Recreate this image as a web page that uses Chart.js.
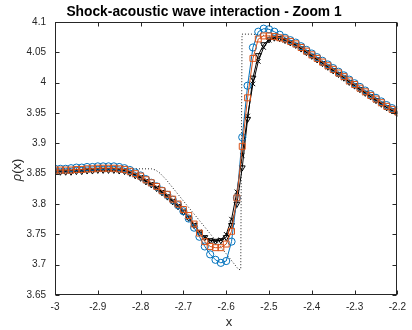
<!DOCTYPE html>
<html>
<head>
<meta charset="utf-8">
<script src="https://cdn.jsdelivr.net/npm/chart.js@4.4.1/dist/chart.umd.min.js"></script>
<style>
  html, body { margin: 0; padding: 0; background: #fff; }
  #wrap { width: 412px; height: 330px; }
</style>
</head>
<body>
<div id="wrap"><canvas id="myChart" width="412" height="330"></canvas></div>
<script>
// sample positions (same grid for all four schemes)
const xGrid = [
  -3.0000, -2.9875, -2.9750, -2.9625, -2.9500, -2.9375, -2.9250, -2.9125, -2.9000, -2.8875,
  -2.8750, -2.8625, -2.8500, -2.8375, -2.8250, -2.8125, -2.8000, -2.7875, -2.7750, -2.7625,
  -2.7500, -2.7375, -2.7250, -2.7125, -2.7000, -2.6875, -2.6750, -2.6625, -2.6500, -2.6375,
  -2.6250, -2.6125, -2.6000, -2.5875, -2.5750, -2.5625, -2.5500, -2.5375, -2.5250, -2.5125,
  -2.5000, -2.4875, -2.4750, -2.4625, -2.4500, -2.4375, -2.4250, -2.4125, -2.4000, -2.3875,
  -2.3750, -2.3625, -2.3500, -2.3375, -2.3250, -2.3125, -2.3000, -2.2875, -2.2750, -2.2625,
  -2.2500, -2.2375, -2.2250, -2.2125, -2.2000
];

// blue circles
const circles = [
  3.858, 3.858, 3.858, 3.859, 3.860, 3.860, 3.861, 3.861, 3.862, 3.862,
  3.862, 3.862, 3.861, 3.859, 3.856, 3.852, 3.847, 3.841, 3.835, 3.829,
  3.822, 3.815, 3.807, 3.798, 3.788, 3.776, 3.761, 3.746, 3.730, 3.717,
  3.708, 3.703, 3.706, 3.738, 3.810, 3.910, 3.995, 4.058, 4.084, 4.089,
  4.088, 4.084, 4.079, 4.074, 4.070, 4.066, 4.060, 4.054, 4.048, 4.042,
  4.036, 4.030, 4.024, 4.018, 4.012, 4.005, 3.999, 3.993, 3.987, 3.981,
  3.975, 3.969, 3.963, 3.958, 3.954
];

// orange squares
const squares = [
  3.856, 3.856, 3.856, 3.856, 3.857, 3.857, 3.858, 3.858, 3.859, 3.859,
  3.859, 3.859, 3.858, 3.857, 3.854, 3.850, 3.846, 3.840, 3.835, 3.829,
  3.822, 3.816, 3.808, 3.800, 3.791, 3.781, 3.767, 3.752, 3.738, 3.730,
  3.728, 3.728, 3.734, 3.755, 3.810, 3.895, 3.975, 4.040, 4.072, 4.077,
  4.077, 4.076, 4.074, 4.072, 4.068, 4.064, 4.058, 4.052, 4.046, 4.040,
  4.034, 4.028, 4.022, 4.016, 4.010, 4.003, 3.997, 3.991, 3.985, 3.979,
  3.973, 3.967, 3.961, 3.956, 3.952
];

// black crosses
const crosses = [
  3.854, 3.854, 3.854, 3.854, 3.855, 3.855, 3.856, 3.856, 3.857, 3.857,
  3.857, 3.857, 3.856, 3.855, 3.852, 3.848, 3.844, 3.838, 3.833, 3.827,
  3.820, 3.813, 3.805, 3.797, 3.788, 3.778, 3.766, 3.754, 3.745, 3.740,
  3.739, 3.741, 3.750, 3.775, 3.820, 3.880, 3.945, 3.998, 4.035, 4.058,
  4.070, 4.074, 4.073, 4.070, 4.066, 4.062, 4.056, 4.050, 4.044, 4.038,
  4.032, 4.026, 4.020, 4.014, 4.008, 4.001, 3.995, 3.989, 3.983, 3.977,
  3.971, 3.965, 3.959, 3.954, 3.950
];

// black down-triangles
const triangles = [
  3.853, 3.853, 3.853, 3.853, 3.854, 3.854, 3.855, 3.855, 3.856, 3.856,
  3.856, 3.856, 3.855, 3.854, 3.851, 3.847, 3.843, 3.837, 3.832, 3.826,
  3.819, 3.812, 3.804, 3.796, 3.787, 3.777, 3.765, 3.753, 3.745, 3.740,
  3.739, 3.740, 3.745, 3.765, 3.800, 3.860, 3.940, 4.008, 4.045, 4.063,
  4.071, 4.074, 4.073, 4.070, 4.066, 4.062, 4.056, 4.050, 4.044, 4.038,
  4.032, 4.026, 4.020, 4.014, 4.008, 4.001, 3.995, 3.989, 3.983, 3.977,
  3.971, 3.965, 3.959, 3.954, 3.950
];

// dotted reference solution
const exactX = [-3, -2.775, -2.765, -2.755, -2.74, -2.7, -2.65, -2.6, -2.571, -2.566,
                -2.563, -2.54, -2.525, -2.5, -2.45, -2.4, -2.35, -2.3, -2.25, -2.2];
const exactY = [3.858, 3.858, 3.856, 3.851, 3.840, 3.805, 3.762, 3.718, 3.692, 3.692,
                4.080, 4.080, 4.079, 4.077, 4.068, 4.046, 4.022, 3.997, 3.973, 3.952];

const xTicks = [-3, -2.9, -2.8, -2.7, -2.6, -2.5, -2.4, -2.3, -2.2];
const yTicks = [3.65, 3.7, 3.75, 3.8, 3.85, 3.9, 3.95, 4, 4.05, 4.1];

const FONT = '"Liberation Sans", Arial, Helvetica, sans-serif';
const AXIS = '#262626';

function pts(ys, xs) {
  return ys.map((y, i) => ({x: (xs || xGrid)[i], y: y}));
}

// box + inward ticks + title and axis labels, matlab style
const matlabAxes = {
  id: 'matlabAxes',
  afterDraw(chart) {
    const ctx = chart.ctx;
    const a = chart.chartArea;
    const xs = chart.scales.x, ys = chart.scales.y;
    const L = Math.round(a.left) + 0.5, R = Math.round(a.right) - 0.5;
    const T = Math.round(a.top) + 0.5, B = Math.round(a.bottom) - 0.5;
    ctx.save();
    ctx.strokeStyle = AXIS;
    ctx.lineWidth = 1;
    ctx.strokeRect(L, T, R - L, B - T);
    ctx.beginPath();
    xTicks.forEach(v => {
      const px = Math.round(xs.getPixelForValue(v)) + 0.5;
      ctx.moveTo(px, B); ctx.lineTo(px, B - 4);
      ctx.moveTo(px, T); ctx.lineTo(px, T + 4);
    });
    yTicks.forEach(v => {
      const py = Math.round(ys.getPixelForValue(v)) + 0.5;
      ctx.moveTo(L, py); ctx.lineTo(L + 4, py);
      ctx.moveTo(R, py); ctx.lineTo(R - 4, py);
    });
    ctx.stroke();

    ctx.fillStyle = '#000';
    ctx.textAlign = 'center';
    ctx.textBaseline = 'middle';
    ctx.font = 'bold 13.8px ' + FONT;
    ctx.fillText('Shock-acoustic wave interaction - Zoom 1', 204, 12);

    ctx.fillStyle = AXIS;
    ctx.font = '13px ' + FONT;
    ctx.fillText('x', 229, 322);

    // rotated y label: italic rho then (x)
    ctx.translate(17, 170);
    ctx.rotate(-Math.PI / 2);
    ctx.textAlign = 'left';
    const rho = 'ρ';
    ctx.font = 'italic 13px ' + FONT;
    const w1 = ctx.measureText(rho).width;
    ctx.font = '13px ' + FONT;
    const w2 = ctx.measureText('(x)').width;
    const start = -(w1 + w2) / 2;
    ctx.font = 'italic 13px ' + FONT;
    ctx.fillText(rho, start, 0);
    ctx.font = '13px ' + FONT;
    ctx.fillText('(x)', start + w1, 0);
    ctx.restore();
  }
};

const data = {
  datasets: [
    {
      label: 'squares',
      data: pts(squares),
      borderColor: '#D95319',
      borderWidth: 1,
      pointStyle: 'rect',
      pointRadius: 4.2,
      pointBorderColor: '#D95319',
      pointBackgroundColor: 'rgba(0,0,0,0)',
      pointBorderWidth: 1
    },
    {
      label: 'circles',
      data: pts(circles),
      borderColor: '#0072BD',
      borderWidth: 1,
      pointStyle: 'circle',
      pointRadius: 3.6,
      pointBorderColor: '#0072BD',
      pointBackgroundColor: 'rgba(0,0,0,0)',
      pointBorderWidth: 1
    },
    {
      label: 'crosses',
      data: pts(crosses),
      borderColor: '#000',
      borderWidth: 1,
      pointStyle: 'crossRot',
      pointRadius: 3.2,
      pointBorderColor: '#000',
      pointBorderWidth: 1
    },
    {
      label: 'triangles',
      data: pts(triangles),
      borderColor: '#000',
      borderWidth: 1,
      pointStyle: 'triangle',
      pointRotation: 180,
      pointRadius: 3.4,
      pointBorderColor: '#000',
      pointBackgroundColor: 'rgba(0,0,0,0)',
      pointBorderWidth: 1
    },
    {
      label: 'exact',
      data: pts(exactY, exactX),
      borderColor: '#222',
      borderWidth: 1,
      borderDash: [1, 2],
      pointRadius: 0
    }
  ]
};

const config = {
  type: 'line',
  data: data,
  options: {
    responsive: false,
    animation: false,
    devicePixelRatio: 1,
    layout: { padding: { top: 22, right: 9, left: 0, bottom: 0 } },
    plugins: { legend: { display: false }, tooltip: { enabled: false }, title: { display: false } },
    elements: { line: { tension: 0 } },
    scales: {
      x: {
        type: 'linear',
        min: -3, max: -2.2,
        grid: { display: false, drawTicks: false },
        border: { display: false },
        afterBuildTicks: s => { s.ticks = xTicks.map(v => ({value: v})); },
        afterFit: s => { s.height = 35; },
        ticks: {
          autoSkip: false, maxRotation: 0, padding: 6, color: AXIS,
          font: { family: FONT, size: 10 },
          callback: v => String(+Number(v).toFixed(2))
        }
      },
      y: {
        type: 'linear',
        min: 3.65, max: 4.1,
        grid: { display: false, drawTicks: false },
        border: { display: false },
        afterBuildTicks: s => { s.ticks = yTicks.map(v => ({value: v})); },
        afterFit: s => { s.width = 55; },
        ticks: {
          autoSkip: false, padding: 9, color: AXIS,
          font: { family: FONT, size: 10 },
          callback: v => String(+Number(v).toFixed(2))
        }
      }
    }
  },
  plugins: [matlabAxes]
};

const myChart = new Chart(document.getElementById('myChart'), config);
</script>
</body>
</html>
